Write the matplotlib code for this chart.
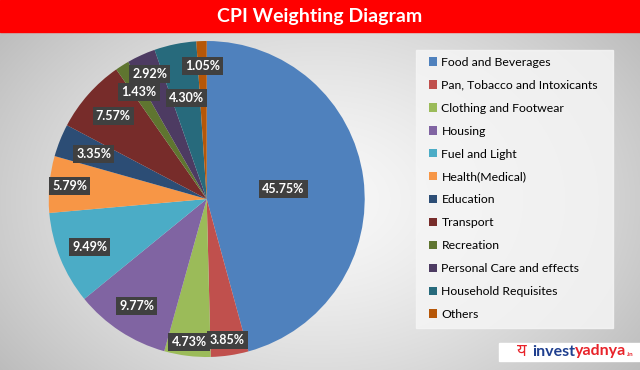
import numpy as np
import matplotlib
matplotlib.use("Agg")
import matplotlib.pyplot as plt
from matplotlib.patches import Rectangle, Patch

categories = ["Food and Beverages", "Pan, Tobacco and Intoxicants", "Clothing and Footwear",
              "Housing", "Fuel and Light", "Health(Medical)", "Education", "Transport",
              "Recreation", "Personal Care and effects", "Household Requisites", "Others"]
weights = [45.75, 3.85, 4.73, 9.77, 9.49, 5.79, 3.35, 7.57, 1.43, 2.92, 4.30, 1.05]
colors = ["#4F81BD", "#C0504D", "#9BBB59", "#8064A2", "#4BACC6", "#F79646",
          "#2C4D75", "#772C2A", "#5F7530", "#4D3B62", "#276A7C", "#B65708"]
label_radius = [0.49, 0.90, 0.91, 0.81, 0.80, 0.87, 0.77, 0.79, 0.80, 0.87, 0.65, 0.84]
title = "CPI Weighting Diagram"

W, H = 640, 370
fig = plt.figure(figsize=(W / 100, H / 100), dpi=100)

# background radial gradient
bg = fig.add_axes([0, 0, 1, 1])
yy, xx = np.mgrid[0:H, 0:W]
d = np.sqrt(((xx - 320) / 420.0) ** 2 + ((yy - 200) / 300.0) ** 2)
v = np.clip(0.97 - 0.25 * d ** 1.5, 0.70, 0.97)
img = np.dstack([v, v, v])
bg.imshow(img, extent=[0, W, H, 0], aspect="auto")
bg.set_xlim(0, W)
bg.set_ylim(H, 0)
bg.axis("off")
# title bar
bg.add_patch(Rectangle((0, 0), W, 32, color="#FF0000", zorder=2))
bg.text(320, 16.5, title, color="white", fontsize=14, fontweight="bold",
        family="Lato", ha="center", va="center", zorder=3)
# legend background box
bg.add_patch(Rectangle((416, 50), 197, 278, color="#f5f5f5", alpha=0.85, zorder=1))
# logo box
bg.add_patch(Rectangle((499, 343), 141, 18, color="white", zorder=2))
bg.text(522, 352, "य", color="#E8232A", fontsize=12, fontweight="bold",
        family=["Noto Sans", "DejaVu Sans"], ha="center", va="center", zorder=3)

fig.canvas.draw()
renderer = fig.canvas.get_renderer()
t1 = bg.text(532, 351.5, "invest", color="#1F3F8F", fontsize=11.5, fontweight="bold",
             family="Lato", ha="left", va="center", zorder=3)
ext = t1.get_window_extent(renderer)
x_end = bg.transData.inverted().transform((ext.x1, ext.y0))[0]
t2 = bg.text(x_end, 351.5, "yadnya", color="#E8232A", fontsize=11.5, fontweight="bold",
             family="Lato", ha="left", va="center", zorder=3)
ext2 = t2.get_window_extent(renderer)
x_end2 = bg.transData.inverted().transform((ext2.x1, ext2.y0))[0]
bg.text(x_end2 + 0.5, 354.5, ".in", color="#E8232A", fontsize=4.5, fontweight="bold",
        family="Lato", ha="left", va="center", zorder=3)

# pie
cx, cy, r = 206.7, 199.0, 158.0
ax = fig.add_axes([(cx - r) / W, 1 - (cy + r) / H, 2 * r / W, 2 * r / H])
wedges, _ = ax.pie(weights, colors=colors, startangle=90, counterclock=False,
                   radius=1.0, wedgeprops=dict(linewidth=0))
ax.set_xlim(-1, 1)
ax.set_ylim(-1, 1)
ax.set_aspect("equal")
ax.axis("off")

total = sum(weights)
cum = 0.0
for w, lr in zip(weights, label_radius):
    mid = (cum + w / 2) / total * 360.0
    cum += w
    ang = np.deg2rad(90 - mid)
    ax.text(lr * np.cos(ang), lr * np.sin(ang), f"{w:.2f}%", color="white",
            fontsize=9, fontweight="bold", family="Lato", ha="center", va="center",
            bbox=dict(boxstyle="square,pad=0.25", fc="#404040", ec="none"))

handles = [Patch(facecolor=c, edgecolor="none") for c in colors]
leg = fig.legend(handles, categories, loc="upper left",
                 bbox_to_anchor=(424 / W, 1 - 52 / H), frameon=False,
                 prop=dict(family="Lato", size=8.8),
                 handlelength=0.68, handleheight=0.68, handletextpad=0.35,
                 labelspacing=0.975, borderaxespad=0)

fig.savefig("out.png", dpi=100)
